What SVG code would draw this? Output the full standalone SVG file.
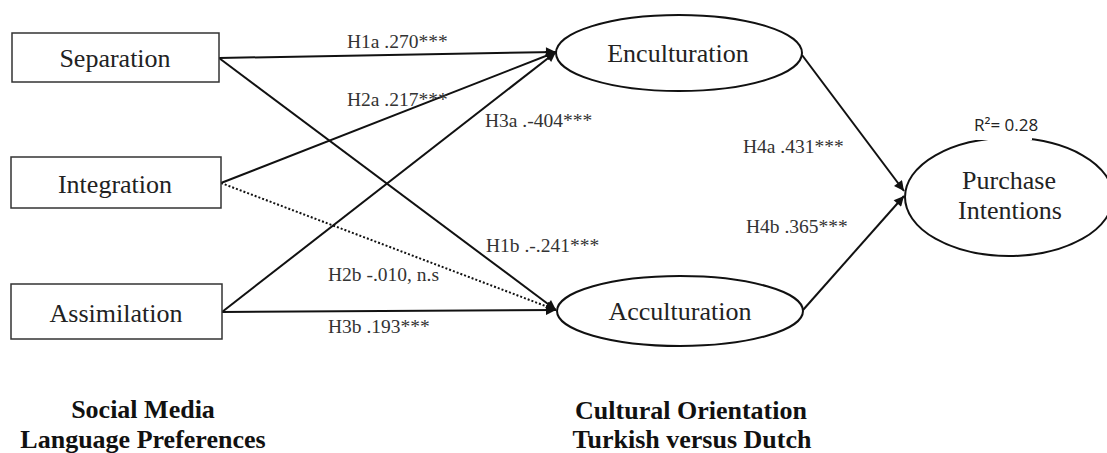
<svg xmlns="http://www.w3.org/2000/svg" width="1107" height="453" viewBox="0 0 1107 453">
<style>
.box{fill:#fff;stroke:#333;stroke-width:1.5}
.ell{fill:#fff;stroke:#111;stroke-width:2}
.node{font-family:"Liberation Serif",serif;font-size:26px;fill:#222;text-anchor:middle}
.lbl{font-family:"Liberation Serif",serif;font-size:19.5px;fill:#333}
.bold{font-family:"Liberation Serif",serif;font-size:26px;font-weight:bold;fill:#111;text-anchor:middle}
.r2{font-family:"Open Sans","Liberation Sans",sans-serif;font-size:17px;fill:#222}
.ln{stroke:#111;stroke-width:2;fill:none;marker-end:url(#ah)}
.dot{stroke:#111;stroke-width:2;stroke-dasharray:2 2;fill:none;marker-end:url(#ah)}
</style>
<defs>
<marker id="ah" viewBox="0 0 10 10" refX="10" refY="5" markerWidth="6" markerHeight="5" markerUnits="strokeWidth" orient="auto">
<path d="M0,0 L10,5 L0,10 z" fill="#111"/>
</marker>
</defs>
<rect width="1107" height="453" fill="#fff"/>
<g id="connectors">
<line class="ln" x1="219" y1="58" x2="556" y2="52"/>
<line class="ln" x1="219" y1="58" x2="556" y2="310"/>
<line class="ln" x1="221" y1="183" x2="556" y2="52"/>
<line class="dot" x1="221" y1="183" x2="556" y2="310"/>
<line class="ln" x1="222" y1="312" x2="556" y2="52"/>
<line class="ln" x1="222" y1="312" x2="556" y2="310"/>
<line class="ln" x1="802" y1="55" x2="904" y2="191"/>
<line class="ln" x1="803" y1="310" x2="904" y2="196"/>
</g>
<g id="labels">
<text class="lbl" x="347" y="48">H1a .270***</text>
<text class="lbl" x="347" y="106">H2a .217***</text>
<text class="lbl" x="485" y="127">H3a .-404***</text>
<text class="lbl" x="486" y="252">H1b .-.241***</text>
<text class="lbl" x="328" y="281">H2b -.010, n.s</text>
<text class="lbl" x="328" y="333">H3b .193***</text>
<text class="lbl" x="743" y="153">H4a .431***</text>
<text class="lbl" x="746" y="233">H4b .365***</text>
</g>
<g id="separation">
<rect class="box" x="12" y="33" width="207" height="49"/>
<text class="node" x="115" y="67">Separation</text>
</g>
<g id="integration">
<rect class="box" x="11" y="157" width="210" height="51"/>
<text class="node" x="115" y="193">Integration</text>
</g>
<g id="assimilation">
<rect class="box" x="11" y="284" width="211" height="55"/>
<text class="node" x="116" y="322">Assimilation</text>
</g>
<g id="enculturation">
<ellipse class="ell" cx="679" cy="53" rx="123" ry="38"/>
<text class="node" x="678" y="62">Enculturation</text>
</g>
<g id="acculturation">
<ellipse class="ell" cx="680" cy="311" rx="123" ry="35"/>
<text class="node" x="680" y="320">Acculturation</text>
</g>
<g id="purchase">
<ellipse class="ell" cx="1009" cy="197" rx="104" ry="59"/>
<text class="node" x="1009" y="189">Purchase</text>
<text class="node" x="1010" y="219">Intentions</text>
</g>
<g id="r2">
<rect x="968" y="118" width="64" height="22" fill="#fff"/>
<text class="r2" x="974" y="131">R²= 0.28</text>
</g>
<g id="titles">
<text class="bold" x="143" y="418">Social Media</text>
<text class="bold" x="143" y="448">Language Preferences</text>
<text class="bold" x="691" y="419">Cultural Orientation</text>
<text class="bold" x="692" y="448">Turkish versus Dutch</text>
</g>
</svg>
